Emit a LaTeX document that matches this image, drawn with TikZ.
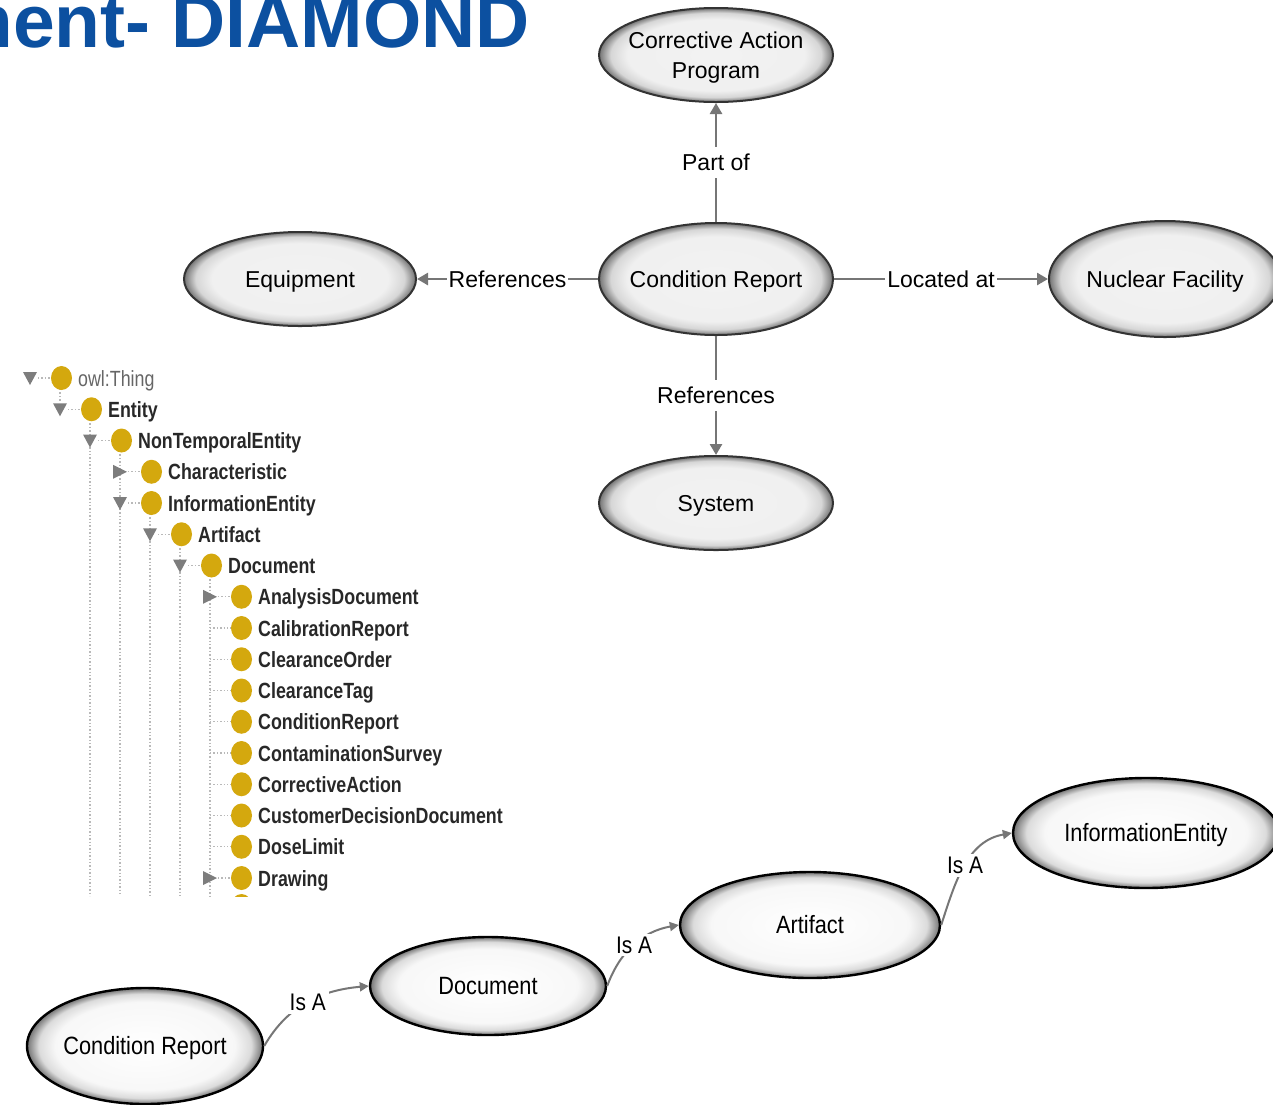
\documentclass[tikz,border=0pt]{standalone}
\usepackage{fontspec}
\setmainfont{Liberation Sans}
\newfontfamily\narrowsans[FakeStretch=0.87]{Liberation Sans}
\newfontfamily\treesans[FakeStretch=0.81]{Liberation Sans}
\usetikzlibrary{shapes.geometric,arrows.meta}

\definecolor{titleblue}{RGB}{12,80,160}
\definecolor{linkgray}{RGB}{118,118,118}
\definecolor{owlgold}{RGB}{212,168,14}
\definecolor{treetext}{RGB}{40,40,40}
\definecolor{dotgray}{RGB}{185,185,185}
\definecolor{tritone}{RGB}{125,125,125}

% soft fill that darkens towards the rim of each oval
% (the 25bp circle is fitted to the oval's outline)
\pgfdeclareradialshading{ovalgray}{\pgfpoint{0bp}{0bp}}{%
  color(0bp)=(white!95!black);color(19bp)=(white!94!black);
  color(22.5bp)=(white!84!black);color(25bp)=(white!45!black);
  color(50bp)=(white!45!black)}
\pgfdeclareradialshading{ovalwhite}{\pgfpoint{0bp}{0bp}}{%
  color(0bp)=(white);color(19bp)=(white!97!black);
  color(22.5bp)=(white!86!black);color(25bp)=(white!45!black);
  color(50bp)=(white!45!black)}

\begin{document}
\begin{tikzpicture}[x=1pt,y=-1pt,
  concept/.style={ellipse, draw=black!80, line width=2pt, shade, shading=ovalgray,
    inner sep=0pt, inner xsep=-10pt, align=center, font=\fontsize{23}{30}\selectfont,
    text height=21.5pt, text depth=5pt},
  klass/.style={ellipse, draw=black, line width=2.4pt, shade, shading=ovalwhite,
    inner sep=0pt, inner xsep=-10pt, font=\narrowsans\fontsize{25}{28}\selectfont,
    text height=23.4pt, text depth=5.5pt},
  relation/.style={draw=linkgray, line width=2.6pt,
    -{Triangle[length=11pt,width=12pt]}},
  rellabel/.style={fill=white, inner sep=2pt, font=\fontsize{23}{27}\selectfont,
    text height=21.5pt, text depth=5pt},
  isa/.style={draw=linkgray, line width=2pt, -{Triangle[length=9pt,width=9pt]}},
  isalabel/.style={fill=white, inner sep=3pt, font=\narrowsans\fontsize{24}{28}\selectfont},
  treelabel/.style={anchor=base west, inner sep=0pt, text=treetext,
    font=\treesans\bfseries\fontsize{22}{24}\selectfont},
  treedots/.style={draw=dotgray, line width=1.4pt, dotted},
  treetri/.style={fill=tritone}
]
\useasboundingbox (0,0) rectangle (1273,1104);
\clip (0,0) rectangle (1273,1104);

% heading
\node[anchor=base east, inner sep=0pt, text=titleblue,
  font=\bfseries\fontsize{75}{80}\selectfont] (heading) at (530,47) {ment- DIAMOND};

% ---------------- concept map ----------------
\node[concept, minimum width=234pt, minimum height=94pt] (cap) at (716,55) {};
\node[align=center, inner sep=0pt, font=\fontsize{23}{30}\selectfont]
  (captext) at (716,58) {Corrective Action\\Program};
\node[concept, minimum width=234pt, minimum height=112pt] (cr) at (716,279)
  {Condition Report};
\node[concept, minimum width=232pt, minimum height=94pt] (eq) at (300,279)
  {Equipment};
\node[concept, minimum width=232pt, minimum height=116pt] (nf) at (1165,279)
  {Nuclear Facility};
\node[concept, minimum width=234pt, minimum height=94pt] (sys) at (716,503)
  {System};

\draw[relation] (cr) -- node[rellabel] {Part of} (cap);
\draw[relation] (cr) -- node[rellabel] {References} (eq);
\draw[relation] (cr) -- node[rellabel] {Located at} (nf);
\draw[relation] (cr) -- node[rellabel] {References} (sys);

% ---------------- class tree ----------------
\begin{scope}
\clip (0,350) rectangle (520,896);
% vertical guide lines
\draw[treedots] (60,389) -- (60,402);
\foreach \gx/\gy in {90/420,120/451,150/514,180/545,210/576}
  \draw[treedots] (\gx,\gy) -- (\gx,896);
% rows: index / depth / toggle (d = open, r = closed, n = leaf) / label
\foreach \r/\l/\k/\t in {
   0/0/d/owl:Thing, 1/1/d/Entity, 2/2/d/NonTemporalEntity,
   3/3/r/Characteristic, 4/3/d/InformationEntity, 5/4/d/Artifact,
   6/5/d/Document, 7/6/r/AnalysisDocument, 8/6/n/CalibrationReport,
   9/6/n/ClearanceOrder, 10/6/n/ClearanceTag, 11/6/n/ConditionReport,
   12/6/n/ContaminationSurvey, 13/6/n/CorrectiveAction,
   14/6/n/CustomerDecisionDocument, 15/6/n/DoseLimit, 16/6/r/Drawing}{
  \pgfmathsetmacro{\ry}{378+31.25*\r}
  \pgfmathsetmacro{\tx}{30+30*\l}
  \pgfmathsetmacro{\cx}{61.5+30*\l}
  \if\k d
    \fill[treetri] (\tx-7,\ry-6) -- (\tx+7,\ry-6) -- (\tx,\ry+7) -- cycle;
    \draw[treedots] (\tx+8,\ry) -- (\cx-11,\ry);
  \fi
  \if\k r
    \fill[treetri] (\tx-7,\ry-7) -- (\tx+7,\ry) -- (\tx-7,\ry+7) -- cycle;
    \draw[treedots] (\tx+8,\ry) -- (\cx-11,\ry);
  \fi
  \if\k n
    \draw[treedots] (\tx,\ry) -- (\cx-11,\ry);
  \fi
  \fill[owlgold] (\cx,\ry) ellipse [x radius=10.5pt, y radius=12pt];
  \ifnum\r=0
    \node[treelabel, text=black!60, font=\treesans\fontsize{22}{24}\selectfont]
      (row\r) at (\cx+16.5,\ry+8) {\t};
  \else
    \node[treelabel] (row\r) at (\cx+16.5,\ry+8) {\t};
  \fi
}
\fill[owlgold] (241.5,906) ellipse [x radius=10.5pt, y radius=12pt];
\end{scope}

% ---------------- is-a chain ----------------
\node[klass, minimum width=236pt, minimum height=116pt] (cr2) at (145,1046)
  {Condition Report};
\node[klass, minimum width=236pt, minimum height=98pt] (doc) at (488,986)
  {Document};
\node[klass, minimum width=260pt, minimum height=106pt] (art) at (810,925)
  {Artifact};
\node[klass, minimum width=266pt, minimum height=110pt] (ie) at (1146,833)
  {InformationEntity};

\draw[isa] (cr2.east) to[out=60,in=185] node[isalabel] {Is A} (doc.west);
\draw[isa] (doc.east) to[out=70,in=190] node[isalabel] {Is A} (art.west);
\draw[isa] (art.east) to[out=72,in=190] node[isalabel] {Is A} (ie.west);
\end{tikzpicture}
\end{document}
